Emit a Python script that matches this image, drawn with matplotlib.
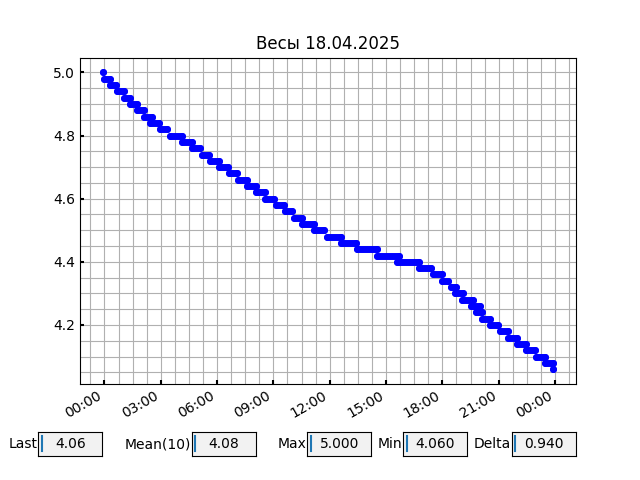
import numpy as np
import matplotlib
matplotlib.use("Agg")
import matplotlib.pyplot as plt
import matplotlib.dates as mdates
from matplotlib.ticker import AutoMinorLocator

# ---- data ----
title = "Весы 18.04.2025"
base_day = "2025-04-18T00:00"

levels = [5.00, 4.98, 4.96, 4.94, 4.92, 4.90, 4.88, 4.86, 4.84, 4.82,
          4.80, 4.78, 4.76, 4.74, 4.72, 4.70, 4.68, 4.66, 4.64, 4.62,
          4.60, 4.58, 4.56, 4.54, 4.52, 4.50, 4.48, 4.46, 4.44, 4.42,
          4.40, 4.38, 4.36, 4.34, 4.32, 4.30, 4.28, 4.26, 4.24, 4.22,
          4.20, 4.18, 4.16, 4.14, 4.12, 4.10, 4.08, 4.06]
# minutes after 18.04.2025 00:00 where each level is first / last seen
start_min = [-6, -2, 19, 41, 62, 81, 105, 127, 145, 177,
             208, 249, 281, 311, 338, 367, 397, 428, 455, 485,
             514, 548, 577, 606, 632, 669, 710, 755, 806, 872,
             936, 1006, 1049, 1078, 1107, 1120, 1142, 1170, 1188, 1206,
             1231, 1263, 1291, 1319, 1348, 1380, 1407, 1434]
end_min = [-6, 19, 38, 62, 81, 103, 126, 151, 175, 201,
           247, 279, 305, 335, 367, 396, 423, 455, 483, 513,
           542, 574, 600, 631, 669, 703, 755, 805, 872, 940,
           1005, 1045, 1078, 1099, 1122, 1147, 1179, 1200, 1206, 1232,
           1259, 1289, 1318, 1347, 1375, 1407, 1435, 1434]

box_labels = ["Last", "Mean(10)", "Max", "Min", "Delta"]
box_values = ["4.06", "4.08", "5.000", "4.060", "0.940"]

# ---- figure ----
fig, ax = plt.subplots(figsize=(6.4, 4.8), dpi=100)

t0 = np.datetime64(base_day)
starts = t0 + np.array(start_min).astype("timedelta64[m]")
ends = t0 + np.array(end_min).astype("timedelta64[m]")

for lv, s, e in zip(levels, starts, ends):
    ax.plot([s, e], [lv, lv], color="blue", lw=5, solid_capstyle="round",
            marker="o", ms=5, mew=0, zorder=3)

ax.set_title(title)
ax.xaxis.set_major_locator(mdates.HourLocator(byhour=range(0, 24, 3)))
ax.xaxis.set_major_formatter(mdates.DateFormatter("%H:%M"))
ax.xaxis.set_minor_locator(AutoMinorLocator())
ax.yaxis.set_minor_locator(AutoMinorLocator())
ax.grid(True, which="both", color="#b0b0b0", lw=0.8)
ax.set_axisbelow(True)
ax.tick_params(which="major", direction="in", length=3, width=1.5)
ax.tick_params(which="minor", direction="in", length=2, width=0.6, color="#b0b0b0")
fig.autofmt_xdate()
fig.subplots_adjust(left=0.125, right=0.9, top=0.88, bottom=0.2)

# ---- value boxes ----
box_lefts = [0.06, 0.30, 0.48, 0.63, 0.80]
for lab, val, x in zip(box_labels, box_values, box_lefts):
    bax = fig.add_axes([x, 0.05, 0.1, 0.05])
    bax.set_facecolor("0.95")
    bax.set_xticks([])
    bax.set_yticks([])
    bax.set_xlim(0, 1)
    bax.set_ylim(0, 1)
    bax.text(-0.01, 0.5, lab, ha="right", va="center", transform=bax.transAxes)
    bax.text(0.5, 0.5, val, ha="center", va="center", transform=bax.transAxes)
    bax.plot([0.053, 0.053], [0.19, 0.82], color="C0", lw=1.5)

fig.savefig("out.png", dpi=100)
